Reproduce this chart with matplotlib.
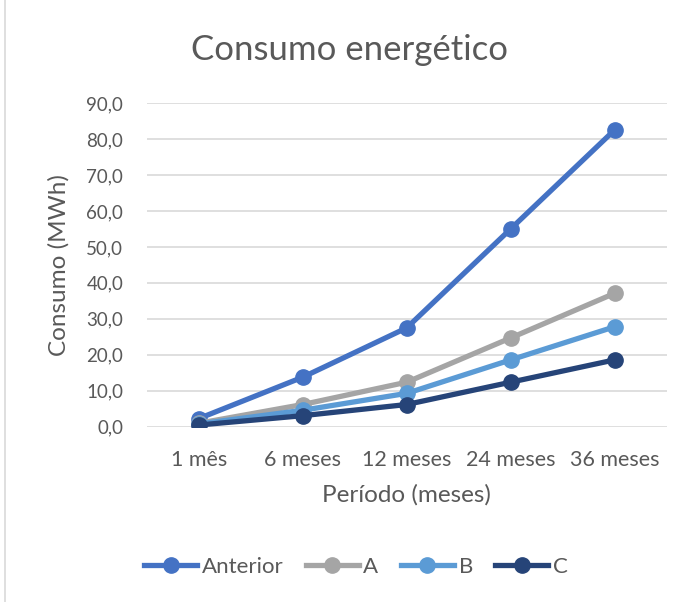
import matplotlib
matplotlib.use("Agg")
import matplotlib.pyplot as plt
from matplotlib.patches import Rectangle

periodos = ["1 mês", "6 meses", "12 meses", "24 meses", "36 meses"]
anterior = [2.3, 13.8, 27.5, 55.0, 82.5]
serie_a = [1.0, 6.2, 12.4, 24.7, 37.1]
serie_b = [0.8, 4.6, 9.3, 18.6, 27.8]
serie_c = [0.5, 3.1, 6.2, 12.4, 18.6]

series = [
    ("Anterior", anterior, "#4472C4"),
    ("A", serie_a, "#A5A5A5"),
    ("B", serie_b, "#5B9BD5"),
    ("C", serie_c, "#264478"),
]

plt.rcParams["font.family"] = ["Lato", "DejaVu Sans"]
text_color = "#595959"

fig = plt.figure(figsize=(6.83, 6.02), dpi=100)
ax = fig.add_axes([0.215, 0.291, 0.761, 0.538])

x = range(len(periodos))
for name, vals, color in series:
    ax.plot(x, vals, marker="o", color=color, linewidth=3.8, markersize=11, label=name)

ax.set_xlim(-0.5, len(periodos) - 0.5)
ax.set_ylim(0, 90)
ax.set_yticks(range(0, 91, 10))
ax.set_yticklabels([f"{v},0" for v in range(0, 91, 10)])
ax.set_xticks(list(x))
ax.set_xticklabels(periodos)
ax.tick_params(length=0, colors=text_color)
ax.tick_params(axis="y", labelsize=13.5, pad=17)
ax.tick_params(axis="x", labelsize=15.5, pad=17)
ax.grid(axis="y", color="#D9D9D9", linewidth=1.2)
ax.set_axisbelow(True)
for s in ax.spines.values():
    s.set_visible(False)

ax.set_ylabel("Consumo (MWh)", fontsize=17.5, color=text_color)
ax.yaxis.set_label_coords(-0.148, 0.5)
ax.set_xlabel("Período (meses)", fontsize=17.5, color=text_color, labelpad=10)
fig.text(0.512, 0.917, "Consumo energético", fontsize=25, color=text_color,
         ha="center", va="center")

ax.legend(loc="center", bbox_to_anchor=(0.521, 0.058), bbox_transform=fig.transFigure,
          ncol=4, frameon=False, fontsize=16, labelcolor=text_color,
          handlelength=2.4, handletextpad=0.2, columnspacing=1.0)

fig.patches.append(Rectangle((0.008, -0.01), 1.2, 1.2, transform=fig.transFigure,
                             fill=False, edgecolor="#D9D9D9", linewidth=1.2))

fig.savefig("out.png", dpi=100)
